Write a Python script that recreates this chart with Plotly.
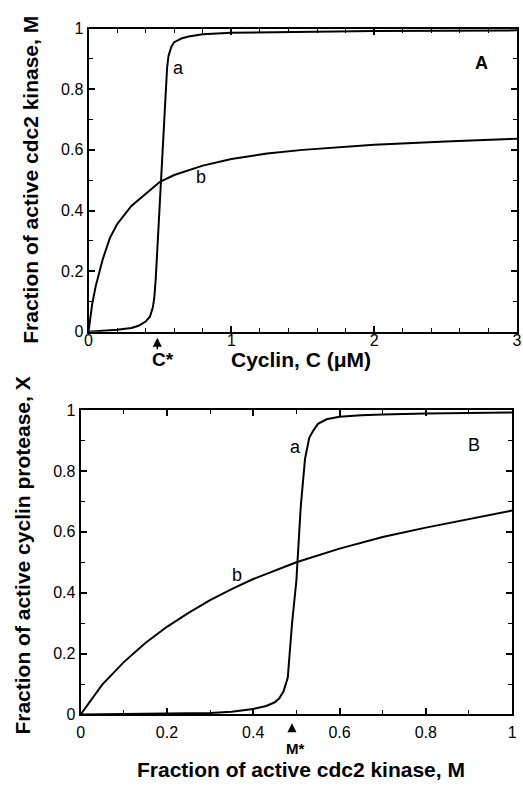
import plotly.graph_objects as go

# ---- Panel A data: M vs cyclin C ----
top_C_a = [0, 0.1, 0.2, 0.3, 0.35, 0.4, 0.43, 0.45, 0.46, 0.47, 0.48, 0.49, 0.50, 0.51,
           0.52, 0.53, 0.54, 0.55, 0.56, 0.58, 0.60, 0.65, 0.70, 0.80, 1.0, 1.5, 2.0, 2.5, 3.0]
top_M_a = [0, 0.003, 0.007, 0.013, 0.02, 0.034, 0.05, 0.08, 0.11, 0.17, 0.26, 0.36, 0.45, 0.53,
           0.62, 0.72, 0.81, 0.87, 0.91, 0.94, 0.955, 0.967, 0.974, 0.981, 0.986, 0.99, 0.992, 0.993, 0.994]
top_C_b = [0, 0.025, 0.05, 0.1, 0.15, 0.2, 0.3, 0.4, 0.5, 0.6, 0.8, 1.0, 1.25, 1.5, 2.0, 2.5, 3.0]
top_M_b = [0, 0.09, 0.15, 0.24, 0.31, 0.355, 0.415, 0.456, 0.495, 0.517, 0.548, 0.57, 0.588,
           0.6, 0.617, 0.628, 0.637]

# ---- Panel B data: X vs M ----
bot_M_a = [0, 0.1, 0.2, 0.3, 0.35, 0.4, 0.43, 0.45, 0.46, 0.47, 0.48, 0.49, 0.50, 0.51,
           0.52, 0.53, 0.54, 0.55, 0.57, 0.6, 0.65, 0.7, 0.8, 0.9, 1.0]
bot_X_a = [0, 0.001, 0.002, 0.005, 0.009, 0.018, 0.028, 0.04, 0.052, 0.075, 0.12, 0.30, 0.44,
           0.68, 0.84, 0.91, 0.935, 0.955, 0.97, 0.978, 0.983, 0.986, 0.989, 0.991, 0.992]
bot_M_b = [0, 0.05, 0.1, 0.15, 0.2, 0.25, 0.3, 0.35, 0.4, 0.5, 0.6, 0.7, 0.8, 0.9, 1.0]
bot_X_b = [0, 0.098, 0.172, 0.235, 0.288, 0.334, 0.376, 0.412, 0.445, 0.5, 0.545, 0.583,
           0.614, 0.641, 0.67]

top_xticks = [0, 1, 2, 3]
y_ticks = [0, 0.2, 0.4, 0.6, 0.8, 1]
bot_xticks = [0, 0.2, 0.4, 0.6, 0.8, 1]

W, H = 523, 789
FONT = "Liberation Sans, Arial, Helvetica, sans-serif"
line = dict(color="black", width=2)

fig = go.Figure()
fig.add_trace(go.Scatter(x=top_C_a, y=top_M_a, mode="lines", line=line, xaxis="x", yaxis="y"))
fig.add_trace(go.Scatter(x=top_C_b, y=top_M_b, mode="lines", line=line, xaxis="x", yaxis="y"))
fig.add_trace(go.Scatter(x=bot_M_a, y=bot_X_a, mode="lines", line=line, xaxis="x2", yaxis="y2"))
fig.add_trace(go.Scatter(x=bot_M_b, y=bot_X_b, mode="lines", line=line, xaxis="x2", yaxis="y2"))

def ax(domain, rng, tickvals, dtick_minor, anchor, standoff=0):
    return dict(domain=domain, range=rng, tickvals=tickvals, anchor=anchor,
                showgrid=False, zeroline=False, showline=True, linecolor="black", linewidth=2,
                mirror="allticks", ticks="inside", ticklen=6, tickwidth=1.5, tickcolor="black",
                minor=dict(dtick=dtick_minor, ticks="inside", ticklen=4, tickwidth=1.2,
                           tickcolor="black", showgrid=False),
                ticklabelstandoff=standoff,
                tickfont=dict(family=FONT, size=16, color="black"), fixedrange=True)

def px(x):
    return x / W

def py(y):
    return 1 - y / H

fig.update_layout(
    width=W, height=H, margin=dict(l=0, r=0, t=0, b=0),
    paper_bgcolor="white", plot_bgcolor="white", showlegend=False,
    xaxis=ax([86 / W, 522 / W], [0, 3], top_xticks, 0.2, "y", -7),
    yaxis=ax([1 - 331 / H, 1 - 21 / H], [0, 1], y_ticks, 0.1, "x"),
    xaxis2=ax([78 / W, 517 / W], [0, 1], bot_xticks, 0.1, "y2", 2),
    yaxis2=ax([1 - 722 / H, 1 - 411 / H], [0, 1], y_ticks, 0.1, "x2"),
)

bold = dict(family=FONT, size=21, color="black")
reg = dict(family=FONT, size=18, color="black")
C = dict(xanchor="center", yanchor="middle", showarrow=False)
ann = []
# axis titles
ann.append(dict(text="<b>Fraction of active cdc2 kinase, M</b>", x=px(27), y=py(176),
                xref="paper", yref="paper", textangle=-90, font=bold, **C))
ann.append(dict(text="<b>Cyclin, C (\u03bcM)</b>", x=px(302), y=py(359),
                xref="paper", yref="paper", font=bold, **C))
ann.append(dict(text="<b>Fraction of active cyclin protease, X</b>", x=px(19), y=py(560),
                xref="paper", yref="paper", textangle=-90, font=bold, **C))
ann.append(dict(text="<b>Fraction of active cdc2 kinase, M</b>", x=px(302), y=py(778),
                xref="paper", yref="paper", font=bold, **C))
# curve labels
ann.append(dict(text="a", x=0.63, y=0.87, xref="x", yref="y", font=reg, **C))
ann.append(dict(text="b", x=0.79, y=0.51, xref="x", yref="y", font=reg, **C))
ann.append(dict(text="<b>A</b>", x=2.75, y=0.885, xref="x", yref="y", font=reg, **C))
ann.append(dict(text="a", x=0.498, y=0.878, xref="x2", yref="y2", font=reg, **C))
ann.append(dict(text="b", x=0.363, y=0.457, xref="x2", yref="y2", font=reg, **C))
ann.append(dict(text="B", x=0.911, y=0.884, xref="x2", yref="y2", font=reg, **C))
# C* and M* markers
ann.append(dict(text="<b>C*</b>", x=px(162), y=py(359), xref="paper", yref="paper",
                font=dict(family=FONT, size=19, color="black"), **C))
ann.append(dict(text="", x=px(156), y=py(337), xref="paper", yref="paper",
                ax=0, ay=13, axref="pixel", ayref="pixel", showarrow=True,
                arrowhead=2, arrowsize=1.2, arrowwidth=1.5, arrowcolor="black"))
ann.append(dict(text="<b>M*</b>", x=px(296), y=py(757), xref="paper", yref="paper",
                font=dict(family=FONT, size=15, color="black"), **C))
ann.append(dict(text="", x=px(293), y=py(731), xref="paper", yref="paper",
                ax=0, ay=10, axref="pixel", ayref="pixel", showarrow=True,
                arrowhead=2, arrowsize=1.2, arrowwidth=1.5, arrowcolor="black"))
fig.update_layout(annotations=ann)

fig.write_html("out.html", config={"displayModeBar": False},
               post_script="document.body.style.margin='0';document.body.style.overflow='hidden';")
